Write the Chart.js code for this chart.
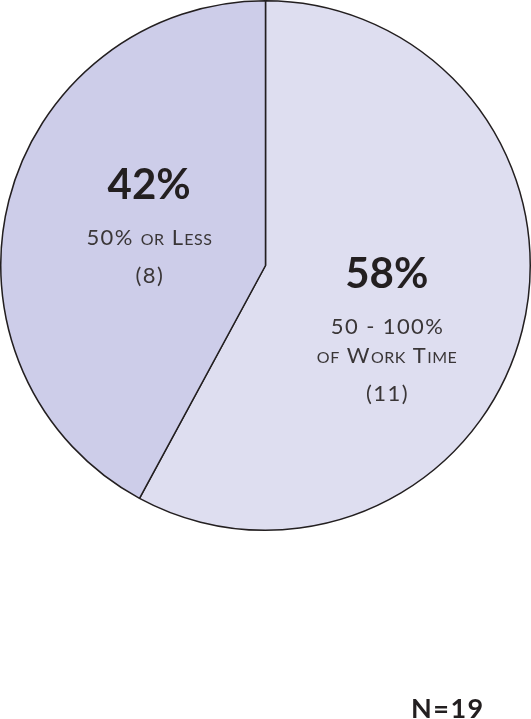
<!DOCTYPE html>
<html>
<head>
<meta charset="utf-8">
<script src="https://cdn.jsdelivr.net/npm/chart.js@4"></script>
<style>
  html, body { margin: 0; padding: 0; background: #ffffff; overflow: hidden; }
  #wrap { position: relative; width: 531px; height: 719px; overflow: hidden; }
  #note { position: absolute; left: 411px; top: 694px; font: bold 27px Lato, sans-serif; line-height: 27px; letter-spacing: 1.5px; color: #231f20; }
</style>
</head>
<body>
<div id="wrap">
  <canvas id="piechart"></canvas>
  <div id="note">N=19</div>
</div>
<script>
const categories = ['50 - 100%\nof Work Time', '50% or Less'];
const counts = [11, 8];
const percents = ['58%', '42%'];
const sliceColors = ['#dedef0', '#cdcde9'];

// offsets of each text block from the slice centre point
const labelOffsets = [[-7, -10], [12, -34]];

// draw a string with lowercase letters as small capitals
function smallCaps(ctx, text, cx, y, size) {
	const small = Math.round(size * 0.72);
	const parts = text.split('').map(ch => {
		const low = ch !== ch.toUpperCase();
		return { t: ch.toUpperCase(), s: low ? small : size, sp: low ? 0.5 : 1.4 };
	});
	let w = 0;
	parts.forEach(p => { ctx.font = p.s + 'px Lato'; w += ctx.measureText(p.t).width + p.sp; });
	w -= parts[parts.length - 1].sp;
	let x = cx - w / 2;
	ctx.textAlign = 'left';
	parts.forEach(p => {
		ctx.font = p.s + 'px Lato';
		ctx.fillText(p.t, x, y);
		x += ctx.measureText(p.t).width + p.sp;
	});
}

const sliceLabels = {
	id: 'sliceLabels',
	afterDatasetsDraw(chart) {
		const ctx = chart.ctx;
		const meta = chart.getDatasetMeta(0);
		ctx.save();
		ctx.textBaseline = 'alphabetic';
		meta.data.forEach((arc, i) => {
			const c = arc.getCenterPoint();
			const x = c.x + labelOffsets[i][0];
			let y = c.y + labelOffsets[i][1];
			ctx.fillStyle = '#231f20';
			ctx.textAlign = 'center';
			ctx.font = 'bold 42px Lato';
			ctx.fillText(percents[i], x, y);
			ctx.fillStyle = '#3a3637';
			y += 46;
			const lines = categories[i].split('\n');
			lines.forEach((line, k) => {
				smallCaps(ctx, line, x, y, 22);
				if (k < lines.length - 1) y += 29;
			});
			y += 38;
			smallCaps(ctx, '(' + counts[i] + ')', x, y, 22);
		});
		ctx.restore();
	}
};

const pieconfig = {
	type: 'pie',
	data: {
		labels: categories,
		datasets: [{
			data: counts,
			backgroundColor: sliceColors,
			borderColor: '#231f20',
			borderWidth: 1.5
		}]
	},
	options: {
		responsive: true,
		maintainAspectRatio: false,
		animation: false,
		layout: { padding: { top: 0, left: 0, right: 0, bottom: 188 } },
		plugins: {
			legend: { display: false },
			tooltip: { enabled: false }
		}
	},
	plugins: [sliceLabels]
};

const piechart = new Chart(document.getElementById('piechart'), pieconfig);
</script>
</body>
</html>
